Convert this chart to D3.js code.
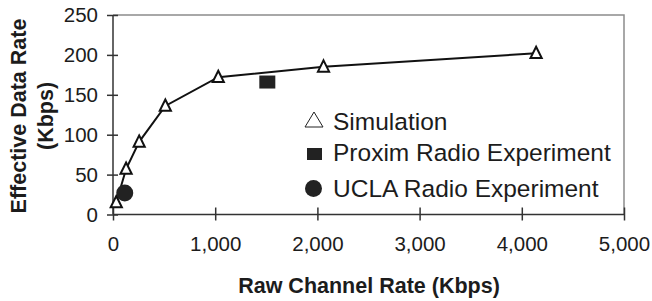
<!DOCTYPE html>
<html>
<head>
<meta charset="utf-8">
<script src="https://cdn.jsdelivr.net/npm/d3@7"></script>
<style>
  html, body { margin: 0; padding: 0; background: #fff; }
  svg { display: block; font-family: 'Liberation Sans', Arial, sans-serif; }
</style>
</head>
<body>
<div id="chart"></div>
<script>
// data
const simRate = [32, 128, 256, 512, 1030, 2060, 4140];
const simEffective = [15, 57, 91, 136, 172, 185, 202];
const proximRate = [1510];
const proximEffective = [166];
const uclaRate = [115];
const uclaEffective = [27];
const xTicks = [0, 1000, 2000, 3000, 4000, 5000];
const yTicks = [0, 50, 100, 150, 200, 250];
const legendLabels = ['Simulation', 'Proxim Radio Experiment', 'UCLA Radio Experiment'];

const width = 652;
const height = 301;
const margin = {top: 15, right: 28, bottom: 86.5, left: 113};
const ink = '#1c1c1c';

const svg = d3.select('#chart')
    .append('svg')
    .attr('width', width)
    .attr('height', height);

const x = d3.scaleLinear()
    .domain([0, 5000])
    .range([margin.left, width - margin.right]);

const y = d3.scaleLinear()
    .domain([0, 250])
    .range([height - margin.bottom, margin.top]);

// plot area border (top and right, grey)
svg.append('path')
    .attr('d', `M${x(0)},${y(250)}H${x(5000)}V${y(0)}`)
    .attr('fill', 'none')
    .attr('stroke', '#8c8c8c')
    .attr('stroke-width', 1.5);

// axes
const xAxis = d3.axisBottom(x)
    .tickValues(xTicks)
    .tickFormat(d3.format(','))
    .tickSize(6)
    .tickPadding(16);

const yAxis = d3.axisLeft(y)
    .tickValues(yTicks)
    .tickSize(6)
    .tickPadding(9);

const gx = svg.append('g')
    .attr('transform', `translate(0,${y(0)})`)
    .call(xAxis);
gx.selectAll('.tick line').attr('y1', -7);

const gy = svg.append('g')
    .attr('transform', `translate(${x(0)},0)`)
    .call(yAxis);
gy.selectAll('.tick line').attr('x1', 5);

svg.selectAll('.domain, .tick line')
    .attr('stroke', '#333')
    .attr('stroke-width', 1.5);
gx.select('.domain').attr('d', `M${x(0)},0H${x(5000)}`);
gy.select('.domain').attr('d', `M0,${y(250)}V${y(0)}`);

svg.selectAll('.tick text')
    .attr('fill', ink)
    .attr('font-size', 20.5)
    .attr('font-family', "'Liberation Sans', Arial, sans-serif");

// simulation line + triangles
const line = d3.line()
    .x((d, i) => x(simRate[i]))
    .y((d) => y(d));

svg.append('path')
    .datum(simEffective)
    .attr('d', line)
    .attr('fill', 'none')
    .attr('stroke', '#111')
    .attr('stroke-width', 2);

const tri = 'M0,-6.5L5.6,4.8L-5.6,4.8Z';

svg.append('g')
    .selectAll('path')
    .data(simEffective)
    .join('path')
    .attr('d', tri)
    .attr('transform', (d, i) => `translate(${x(simRate[i])},${y(d)})`)
    .attr('fill', '#fff')
    .attr('stroke', '#111')
    .attr('stroke-width', 2);

// proxim squares
svg.append('g')
    .selectAll('rect')
    .data(proximEffective)
    .join('rect')
    .attr('x', (d, i) => x(proximRate[i]) - 8)
    .attr('y', (d) => y(d) - 6.5)
    .attr('width', 16)
    .attr('height', 13)
    .attr('fill', '#222');

// ucla circles
svg.append('g')
    .selectAll('circle')
    .data(uclaEffective)
    .join('circle')
    .attr('cx', (d, i) => x(uclaRate[i]))
    .attr('cy', (d) => y(d))
    .attr('r', 8.5)
    .attr('fill', '#222');

// legend
const legend = svg.append('g');
const legendBase = [130, 161, 197];

legend.append('path')
    .attr('d', 'M314,112L323,127L305,127Z')
    .attr('fill', '#fff')
    .attr('stroke', '#222')
    .attr('stroke-width', 1);
legend.append('rect')
    .attr('x', 307).attr('y', 148)
    .attr('width', 15).attr('height', 12)
    .attr('fill', '#222');
legend.append('circle')
    .attr('cx', 313.5).attr('cy', 188.5)
    .attr('r', 8.5)
    .attr('fill', '#222');

legend.selectAll('text')
    .data(legendLabels)
    .join('text')
    .attr('x', 333)
    .attr('y', (d, i) => legendBase[i])
    .attr('font-size', 24.5)
    .attr('fill', ink)
    .text((d) => d);

// axis titles
svg.append('text')
    .attr('text-anchor', 'middle')
    .attr('x', 369)
    .attr('y', 293)
    .attr('font-size', 21.5)
    .attr('font-weight', 'bold')
    .attr('fill', ink)
    .text('Raw Channel Rate (Kbps)');

const yTitle = svg.append('text')
    .attr('text-anchor', 'middle')
    .attr('transform', 'translate(26,116) rotate(-90)')
    .attr('font-size', 21.5)
    .attr('font-weight', 'bold')
    .attr('fill', ink);
yTitle.append('tspan').attr('x', 0).attr('y', 0).text('Effective Data Rate');
yTitle.append('tspan').attr('x', 0).attr('y', 27).text('(Kbps)');
</script>
</body>
</html>
